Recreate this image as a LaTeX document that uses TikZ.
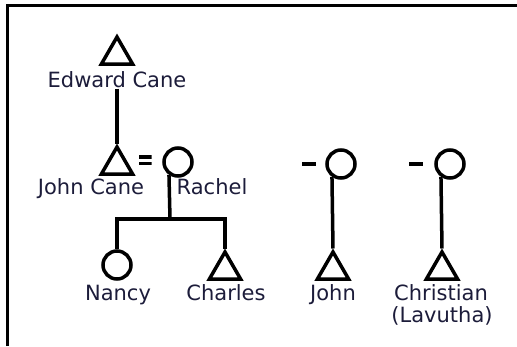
\documentclass[tikz,border=0pt]{standalone}
\usepackage{fontspec}
\setmainfont{DejaVu Sans}
\usetikzlibrary{shapes.geometric}
\definecolor{labelink}{RGB}{28,28,58}
\begin{document}
\begin{tikzpicture}[x=1pt,y=-1pt,line join=miter,
  male/.style={regular polygon, regular polygon sides=3, draw, line width=3.5pt, minimum size=36pt, inner sep=0pt},
  female/.style={circle, draw, line width=3.5pt, minimum size=28pt, inner sep=0pt},
  lbl/.style={font=\fontsize{21}{25}\selectfont, text=labelink, inner sep=0pt, anchor=base},
  link/.style={line width=3.5pt},
  dashmark/.style={fill=black, minimum width=14pt, minimum height=3.5pt, inner sep=0pt},
  eqsign/.style={minimum width=13pt, minimum height=10pt, inner sep=0pt,
    path picture={\fill (path picture bounding box.north west) rectangle ([yshift=-3.5pt]path picture bounding box.north east);
                  \fill ([yshift=3.5pt]path picture bounding box.south west) rectangle (path picture bounding box.south east);}}]
\useasboundingbox (0,0) rectangle (517,346);
% frame
\draw[line width=3pt] (7,346) -- (7,5) -- (517,5);

% people
\node[male] (edward) at (117,55) {};
\node[male] (jcane) at (117,165) {};
\node[eqsign] (eq) at (145,160) {};
\node[female] (rachel) at (178,162) {};
\node[female] (nancy) at (117,265) {};
\node[male] (charles) at (225,270) {};
\node[dashmark] (jdash) at (309,164) {};
\node[female] (jmother) at (341,164) {};
\node[male] (john) at (333,270) {};
\node[dashmark] (cdash) at (416,164) {};
\node[female] (cmother) at (450,164) {};
\node[male] (christian) at (442,270) {};

% labels
\node[lbl] (edlbl) at (117,87) {Edward Cane};
\node[lbl] (jclbl) at (91,194) {John Cane};
\node[lbl] (rachlbl) at (212,194) {Rachel};
\node[lbl] (nanlbl) at (118,300) {Nancy};
\node[lbl] (charlbl) at (226,300) {Charles};
\node[lbl] (johnlbl) at (333,300) {John};
\node[lbl] (chrlbl) at (441,300) {Christian};
\node[lbl] (lavlbl) at (442,322) {(Lavutha)};

% connectors
\coordinate (fam) at (170,219);
\draw[link] ([yshift=-1pt]edlbl.south) -- (jcane.corner 1);
\draw[link] (rachel.235) -- (fam);
\draw[link] (nancy.north) -- (nancy.north |- fam) -- (charles.corner 1 |- fam) -- (charles.corner 1);
\draw[link] (jmother.235) -- (john.corner 1);
\draw[link] (cmother.235) -- (christian.corner 1);
\end{tikzpicture}
\end{document}
